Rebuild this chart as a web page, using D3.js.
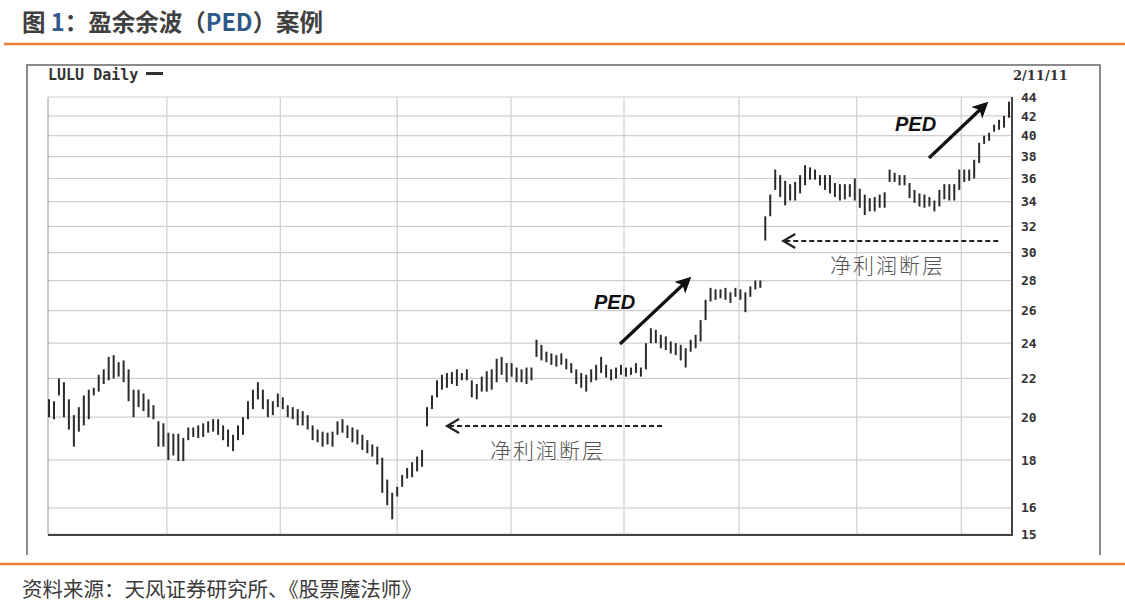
<!DOCTYPE html>
<html><head><meta charset="utf-8">
<script src="https://cdn.jsdelivr.net/npm/d3@7"></script>
<style>
html,body{margin:0;padding:0;background:#fff;}
svg{display:block;}
</style></head>
<body>
<svg id="c" width="1125" height="605"></svg>
<script>
// ---- data ----
const tickValues = [15,16,18,20,22,24,26,28,30,32,34,36,38,40,42,44];
const highs = [20.9,20.8,22.0,21.8,20.9,20.1,20.5,21.1,21.4,21.5,22.2,22.5,23.2,23.3,22.9,23.0,22.5,21.4,21.4,21.2,
20.9,20.6,19.8,19.7,19.25,19.2,19.2,19.0,19.5,19.5,19.6,19.7,19.8,19.9,19.9,19.6,19.4,19.15,19.6,20.0,
20.8,21.4,21.8,21.4,20.9,20.8,21.2,21.0,20.6,20.5,20.4,20.3,20.1,19.6,19.4,19.3,19.25,19.3,19.8,19.9,
19.6,19.5,19.4,19.15,18.9,18.7,18.6,18.1,17.15,16.6,16.85,17.35,17.65,17.9,18.15,18.45,20.5,21.1,21.9,22.2,
22.3,22.35,22.5,22.3,22.5,21.9,21.7,22.1,22.4,22.5,23.1,23.2,22.85,22.85,22.6,22.5,22.6,22.6,24.2,23.9,
23.5,23.4,23.3,23.4,23.1,22.85,22.5,22.3,22.2,22.5,22.75,23.2,22.75,22.5,22.6,22.75,22.6,22.6,22.85,22.6,
24.0,24.9,24.8,24.5,24.4,24.1,24.0,23.9,23.7,24.2,24.5,25.4,26.7,27.5,27.4,27.4,27.5,27.2,27.5,27.4,
27.2,27.6,28.0,28.0,32.8,34.6,36.8,36.3,35.8,35.5,35.7,36.3,37.2,37.0,36.8,36.3,36.3,36.3,35.6,35.5,
35.5,35.5,36.0,35.1,34.6,34.3,34.4,34.6,34.8,36.8,36.5,36.3,36.3,35.6,35.0,34.7,34.6,34.4,34.1,35.0,
35.5,35.5,35.5,36.8,36.8,36.8,37.7,39.3,40.0,40.3,41.1,41.6,42.0,43.5];
const lows = [20.0,19.9,21.1,20.0,19.4,18.6,19.3,19.6,19.9,21.1,21.3,21.7,21.9,22.0,22.1,21.8,20.8,20.0,20.5,20.3,
20.0,19.9,18.6,18.6,18.0,18.2,17.95,17.95,18.9,19.05,19.0,19.05,19.25,19.3,19.15,18.9,18.6,18.4,18.9,19.15,
19.9,20.4,20.9,20.4,20.0,20.1,20.5,20.4,20.0,19.9,19.6,19.6,19.4,18.9,18.8,18.6,18.7,18.6,19.15,19.25,
19.0,18.8,18.7,18.45,18.3,18.15,17.8,16.6,16.1,15.55,16.45,16.85,17.2,17.25,17.5,17.7,19.55,20.4,21.0,21.4,
21.5,21.7,21.6,21.9,21.9,21.0,20.9,21.3,21.3,21.4,21.8,22.2,21.8,22.1,21.8,21.8,21.7,21.9,23.2,23.0,
22.9,22.75,22.65,22.75,22.5,22.3,21.7,21.5,21.3,21.8,21.9,22.3,22.05,21.9,22.0,22.2,22.1,22.2,22.3,22.1,
22.5,24.0,24.0,23.7,23.6,23.4,23.3,23.0,22.6,23.5,23.7,24.1,25.4,26.6,26.7,26.8,26.7,26.5,26.9,26.7,
25.9,26.9,27.4,27.5,30.9,32.8,35.0,34.4,33.7,34.1,34.1,34.7,35.4,35.9,35.9,35.4,35.0,34.7,34.4,34.1,
34.2,34.4,34.1,33.5,32.9,33.2,33.2,33.5,33.5,35.7,35.7,35.4,35.4,34.3,33.9,33.6,33.5,33.6,33.2,33.6,
34.2,34.1,34.1,35.0,35.7,35.8,36.0,37.4,39.2,39.5,40.4,40.6,40.8,41.8];
const monthLines = [23.7, 46.5, 70, 92.9, 115.6, 138.7, 162.4, 183.4]; // bar positions of vertical grid lines
const chartName = "LULU Daily";
const lastDate = "2/11/11";
const annoLabel = "净利润断层";
const pedLabel = "PED";

// ---- layout ----
const svg = d3.select("#c");
const L = 48, R = 1012, T = 97, B = 535;
const x = d3.scaleLinear().domain([0, highs.length - 1]).range([49, 1009]);
const y = d3.scaleLog().domain([15, 44]).range([534, 97]);

// title
const title = svg.append("text").attr("x", 22).attr("y", 31)
  .attr("font-family", "'Noto Sans CJK SC', sans-serif").attr("font-weight", "bold")
  .attr("font-size", 23.5).attr("fill", "#404040");
title.append("tspan").text("图 ");
title.append("tspan").attr("fill", "#2e5a8a").text("1");
title.append("tspan").text("：盈余余波（");
title.append("tspan").attr("fill", "#2e5a8a").text("PED");
title.append("tspan").text("）案例");

svg.append("line").attr("x1", 4).attr("x2", 1125).attr("y1", 44).attr("y2", 44)
  .attr("stroke", "#ED7D31").attr("stroke-width", 2.5);
svg.append("line").attr("x1", 0).attr("x2", 1125).attr("y1", 564).attr("y2", 564)
  .attr("stroke", "#ED7D31").attr("stroke-width", 2.5);

// source
svg.append("text").attr("x", 22).attr("y", 597)
  .attr("font-family", "'Noto Sans CJK SC', sans-serif").attr("font-size", 20.5)
  .attr("fill", "#3a3a3a").text("资料来源：天风证券研究所、《股票魔法师》");

// outer frame of the embedded picture
svg.append("path").attr("d", `M27,555 V65 H1100 V555`).attr("fill", "none")
  .attr("stroke", "#666").attr("stroke-width", 1.5);

// header texts
svg.append("text").attr("x", 48).attr("y", 80).attr("font-family", "'DejaVu Sans Mono', monospace")
  .attr("font-weight", "bold").attr("font-size", 15).attr("fill", "#333").text(chartName);
svg.append("line").attr("x1", 146).attr("x2", 163).attr("y1", 73.5).attr("y2", 73.5)
  .attr("stroke", "#333").attr("stroke-width", 3);
svg.append("text").attr("x", 1013).attr("y", 80).attr("font-family", "'DejaVu Serif', serif")
  .attr("font-weight", "bold").attr("font-size", 13).attr("fill", "#333").text(lastDate);

// grid
const g = svg.append("g");
g.selectAll(".hg").data(tickValues).join("line")
  .attr("x1", L).attr("x2", R).attr("y1", d => y(d)).attr("y2", d => y(d))
  .attr("stroke", "#cfcfcf").attr("stroke-width", 1.2);
g.selectAll(".vg").data(monthLines).join("line")
  .attr("x1", d => x(d)).attr("x2", d => x(d)).attr("y1", T).attr("y2", B)
  .attr("stroke", "#cfcfcf").attr("stroke-width", 1.2);
// plot border
g.append("line").attr("x1", L).attr("x2", L).attr("y1", T).attr("y2", B).attr("stroke", "#999").attr("stroke-width", 1);
g.append("line").attr("x1", L).attr("x2", R).attr("y1", B).attr("y2", B).attr("stroke", "#444").attr("stroke-width", 2.2);
g.append("line").attr("x1", R).attr("x2", R).attr("y1", T).attr("y2", B + 1).attr("stroke", "#444").attr("stroke-width", 2);

// right axis labels
const ax = svg.append("g").attr("transform", `translate(1018,0)`)
  .call(d3.axisRight(y).tickValues(tickValues).tickFormat(d3.format("d")).tickSize(0));
ax.select(".domain").remove();
ax.selectAll("text").attr("font-family", "'DejaVu Sans Mono', monospace").attr("font-weight", "bold")
  .attr("font-size", 13).attr("fill", "#333");

// bars
const bars = svg.append("g");
bars.selectAll("line").data(highs).join("line")
  .attr("x1", (d, i) => x(i)).attr("x2", (d, i) => x(i))
  .attr("y1", d => y(d)).attr("y2", (d, i) => y(lows[i]))
  .attr("stroke", "#2a2a2a").attr("stroke-width", 2);

// annotations: dashed arrows
function dashedArrow(x0, x1, yy) {
  svg.append("line").attr("x1", x0 + 2).attr("x2", x1).attr("y1", yy).attr("y2", yy)
    .attr("stroke", "#222").attr("stroke-width", 2.2).attr("stroke-dasharray", "5,3");
  svg.append("path").attr("d", `M${x0 + 12},${yy - 7} L${x0},${yy} L${x0 + 12},${yy + 7}`)
    .attr("fill", "none").attr("stroke", "#222").attr("stroke-width", 2.2);
}
dashedArrow(x(76) + 20, 663, 426);
dashedArrow(x(144) + 18, 1001, 241);
svg.append("text").attr("x", 490).attr("y", 458)
  .attr("font-family", "'Noto Sans CJK SC', serif").attr("font-size", 21).attr("font-weight", 300)
  .attr("fill", "#555").attr("letter-spacing", 2).text(annoLabel);
svg.append("text").attr("x", 830).attr("y", 273)
  .attr("font-family", "'Noto Sans CJK SC', serif").attr("font-size", 21).attr("font-weight", 300)
  .attr("fill", "#555").attr("letter-spacing", 2).text(annoLabel);

// PED arrows
const defs = svg.append("defs");
defs.append("marker").attr("id", "ah").attr("viewBox", "0 0 10 10").attr("refX", 8).attr("refY", 5)
  .attr("markerWidth", 5).attr("markerHeight", 5).attr("orient", "auto")
  .append("path").attr("d", "M0,0 L10,5 L0,10 L2.5,5 Z").attr("fill", "#111");
function pedArrow(x0, y0, x1, y1) {
  svg.append("line").attr("x1", x0).attr("y1", y0).attr("x2", x1).attr("y2", y1)
    .attr("stroke", "#111").attr("stroke-width", 3.2).attr("marker-end", "url(#ah)");
}
pedArrow(620, 344, 689, 279);
pedArrow(929, 158, 986, 104);
[[594, 309], [895, 131]].forEach(p => {
  svg.append("text").attr("x", p[0]).attr("y", p[1]).attr("font-family", "'Liberation Sans', Arial, sans-serif")
    .attr("font-weight", "bold").attr("font-style", "italic").attr("font-size", 20).attr("fill", "#111").text(pedLabel);
});
</script>
</body></html>
